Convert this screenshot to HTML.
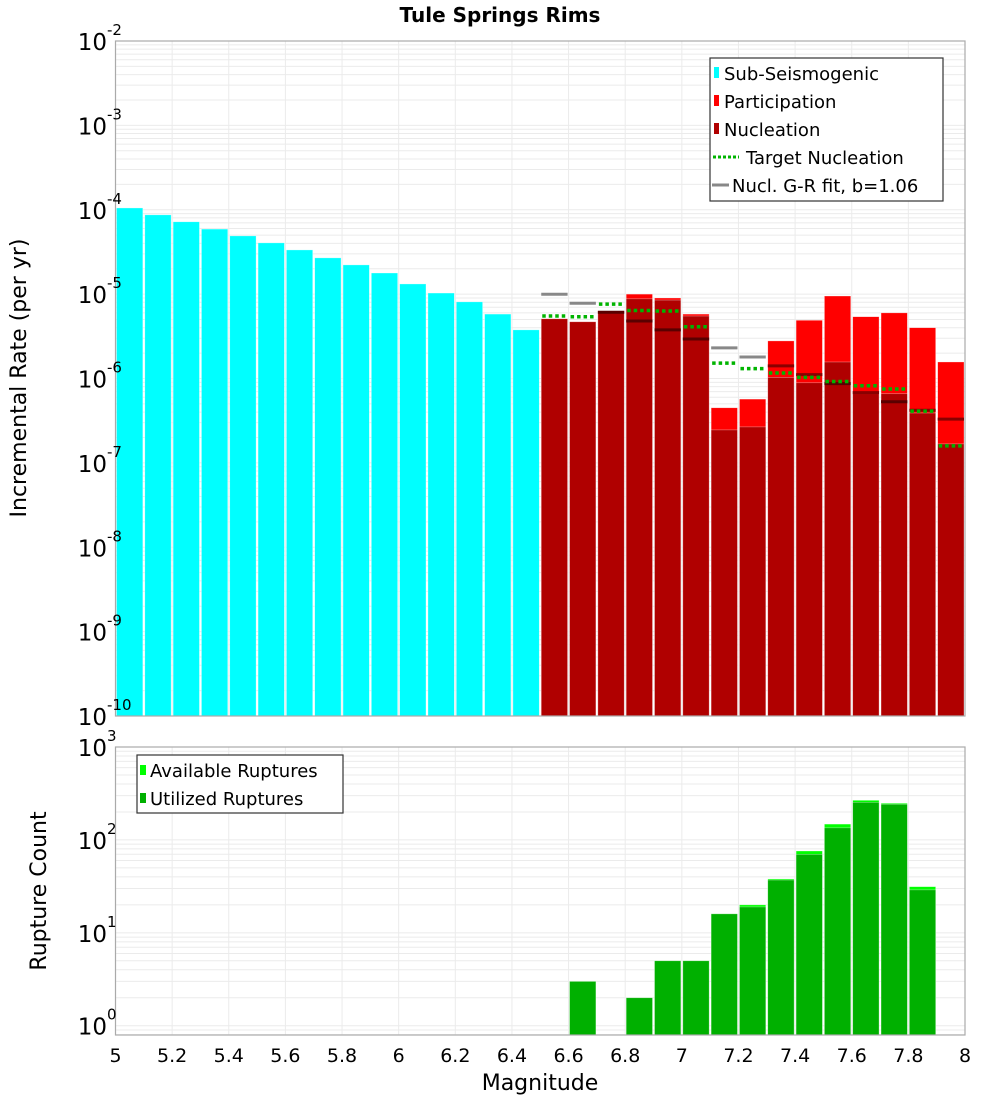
<!DOCTYPE html>
<html><head><meta charset="utf-8"><style>
body{margin:0;background:#fff;}
svg text{font-family:"DejaVu Sans","Liberation Sans",sans-serif;}
</style></head><body>
<svg id="chart" width="1000" height="1100" xmlns="http://www.w3.org/2000/svg">
<text x="500" y="22" text-anchor="middle" font-size="20" font-weight="bold">Tule Springs Rims</text>
<g id="gtop"></g>
<g id="gbot"></g>
<text transform="translate(26,378) rotate(-90)" text-anchor="middle" font-size="22">Incremental Rate (per yr)</text>
<text transform="translate(46,891) rotate(-90)" text-anchor="middle" font-size="22">Rupture Count</text>
<text x="540" y="1090" text-anchor="middle" font-size="22">Magnitude</text>
<g font-size="18">
<rect x="710" y="58" width="233" height="143" fill="#fff" stroke="#333" stroke-width="1.2"/>
<rect x="714" y="67" width="5" height="11" fill="#00ffff"/><text x="724" y="80">Sub-Seismogenic</text>
<rect x="714" y="95" width="5" height="11" fill="#ff0000"/><text x="724" y="108">Participation</text>
<rect x="714" y="123" width="5" height="11" fill="#b00000"/><text x="724" y="136">Nucleation</text>
<line x1="713" x2="739" y1="157" y2="157" stroke="#00b400" stroke-width="3" stroke-dasharray="3 2"/><text x="746" y="164">Target Nucleation</text>
<line x1="712" x2="729" y1="185" y2="185" stroke="#888" stroke-width="3"/><text x="732" y="192">Nucl. G-R fit, b=1.06</text>
</g>
<g font-size="18">
<rect x="137" y="755" width="206" height="58" fill="#fff" stroke="#333" stroke-width="1.2"/>
<rect x="140" y="765" width="6" height="10" fill="#00ff00"/><text x="150" y="777">Available Ruptures</text>
<rect x="140" y="793" width="6" height="10" fill="#00b000"/><text x="150" y="805">Utilized Ruptures</text>
</g>
</svg>
<script>
const subMags=[5.0,5.1,5.2,5.3,5.4,5.5,5.6,5.7,5.8,5.9,6.0,6.1,6.2,6.3,6.4];
const subRates=[1.05e-4,8.7e-5,7.2e-5,5.9e-5,4.9e-5,4.05e-5,3.34e-5,2.69e-5,2.22e-5,1.78e-5,1.32e-5,1.03e-5,8.1e-6,5.8e-6,3.77e-6];
const supMags=[6.5,6.6,6.7,6.8,6.9,7.0,7.1,7.2,7.3,7.4,7.5,7.6,7.7,7.8,7.9];
const partRates=[5.1e-6,4.7e-6,6.3e-6,1.0e-5,9.0e-6,5.8e-6,4.5e-7,5.7e-7,2.79e-6,4.9e-6,9.5e-6,5.4e-6,6.0e-6,4.0e-6,1.57e-6];
const nuclRates=[5.1e-6,4.7e-6,6.3e-6,8.8e-6,8.5e-6,5.5e-6,2.46e-7,2.67e-7,1.03e-6,8.9e-7,1.57e-6,6.6e-7,6.6e-7,3.9e-7,1.68e-7];
const targetRates=[5.5e-6,5.4e-6,7.6e-6,6.4e-6,6.3e-6,4.1e-6,1.52e-6,1.31e-6,1.16e-6,1.03e-6,9.2e-7,8.2e-7,7.5e-7,4.1e-7,1.59e-7];
const grRates=[9.97e-6,7.8e-6,6.1e-6,4.8e-6,3.77e-6,2.94e-6,2.31e-6,1.8e-6,1.41e-6,1.11e-6,8.7e-7,6.8e-7,5.3e-7,4.2e-7,3.3e-7];
const cntMags=[6.6,6.8,6.9,7.0,7.1,7.2,7.3,7.4,7.5,7.6,7.7,7.8];
const availCounts=[3,2,5,5,16,20,38,76,148,267,248,31.4];
const usedCounts=[3,2,5,5,16,19,37,70,135,254,242,29];
const xTicks=[5,5.2,5.4,5.6,5.8,6,6.2,6.4,6.6,6.8,7,7.2,7.4,7.6,7.8,8];
const topExps=[-10,-9,-8,-7,-6,-5,-4,-3,-2];
const botExps=[0,1,2,3];

const NS='http://www.w3.org/2000/svg';
const X0=115.5,X1=965;
const xs=m=>X0+(m-5)/3*(X1-X0);
const PT={top:41,bot:716,lo:-10,hi:-2};
const PB={top:747,bot:1035,lo:Math.log10(0.795),hi:3};
const yT=v=>PT.bot-(Math.log10(v)-PT.lo)/(PT.hi-PT.lo)*(PT.bot-PT.top);
const yB=v=>PB.bot-(Math.log10(v)-PB.lo)/(PB.hi-PB.lo)*(PB.bot-PB.top);
function mk(parent,tag,attrs){const e=document.createElementNS(NS,tag);for(const k in attrs)e.setAttribute(k,attrs[k]);parent.appendChild(e);return e;}
const gTop=document.getElementById('gtop'),gBot=document.getElementById('gbot');

function grid(g,P,yf){
  for(let e=Math.floor(P.lo);e<P.hi;e++)for(let k=1;k<10;k++){const v=k*Math.pow(10,e);if(Math.log10(v)<P.lo-1e-9)continue;const yy=yf(v);
    const l=mk(g,'line',{x1:X0,x2:X1,y1:yy,y2:yy,stroke:'#ebebeb','stroke-width':1});
    
    }
  xTicks.forEach(t=>{const l=mk(g,'line',{x1:xs(t),x2:xs(t),y1:P.top,y2:P.bot,stroke:'#ebebeb','stroke-width':1});
    
    });
}
grid(gTop,PT,yT);grid(gBot,PB,yB);

function bar(g,m,v,yf,P,fill,name){
  const yy=yf(v);
  const r=mk(g,'rect',{x:xs(m)+1,y:yy,width:xs(m+0.1)-xs(m)-2,height:P.bot-yy,fill:fill,stroke:'#fff','stroke-opacity':0.5,'stroke-width':0.6});
  
  
}
subMags.forEach((m,i)=>bar(gTop,m,subRates[i],yT,PT,'#00ffff','sub-seismogenic-bar'));
supMags.forEach((m,i)=>bar(gTop,m,partRates[i],yT,PT,'#ff0000','participation-bar'));
supMags.forEach((m,i)=>bar(gTop,m,nuclRates[i],yT,PT,'#b00000','nucleation-bar'));
supMags.forEach((m,i)=>{const v=grRates[i];const c=v<=nuclRates[i]*1.02?'#5a0000':(v<=partRates[i]?'#8a0000':'#888');
  const l=mk(gTop,'line',{x1:xs(m)+1,x2:xs(m+0.1)-1,y1:yT(v),y2:yT(v),stroke:c,'stroke-width':3});
  
  });
supMags.forEach((m,i)=>{const v=targetRates[i];
  const l=mk(gTop,'line',{x1:xs(m)+2,x2:xs(m+0.1)-2,y1:yT(v),y2:yT(v),stroke:'#00b400','stroke-width':3.5,'stroke-dasharray':'3.5 3'});
  
  });
cntMags.forEach((m,i)=>bar(gBot,m,availCounts[i],yB,PB,'#00ff00','available-ruptures-bar'));
cntMags.forEach((m,i)=>bar(gBot,m,usedCounts[i],yB,PB,'#00b000','utilized-ruptures-bar'));

[[gTop,PT],[gBot,PB]].forEach(([g,P])=>{const r=mk(g,'rect',{x:X0,y:P.top,width:X1-X0,height:P.bot-P.top,fill:'none',stroke:'#aaa','stroke-width':1.2});
  
  });

function ylab(g,e,yy){
  const t=mk(g,'text',{x:107,y:yy+9,'text-anchor':'end','font-size':23});
  
  
  t.textContent='10';
  const s=mk(g,'text',{x:107,y:yy-6,'font-size':15});
  
  
  s.textContent=String(e);
}
topExps.forEach(e=>ylab(gTop,e,yT(Math.pow(10,e))));
botExps.forEach(e=>ylab(gBot,e,yB(Math.pow(10,e))));
xTicks.forEach(t=>{const tx=mk(gBot,'text',{x:xs(t),y:1062,'text-anchor':'middle','font-size':19});
  
  
  tx.textContent=String(t);});
</script>
</body></html>
